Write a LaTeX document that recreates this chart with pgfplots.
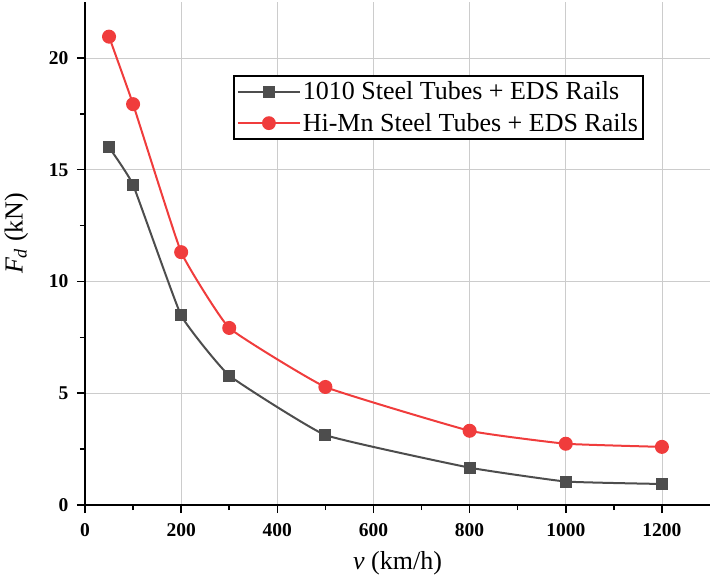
\documentclass[border=0pt]{standalone}
\usepackage{pgfplots}
\pgfplotsset{compat=1.18}
\usepackage{fontspec}
\setmainfont{Liberation Serif}
\definecolor{sgray}{RGB}{77,77,77}
\definecolor{sred}{RGB}{240,60,60}
\begin{document}
\begin{tikzpicture}
\begin{axis}[
  scale only axis,
  width=625pt, height=503pt,
  xmin=0, xmax=1300, ymin=0, ymax=22.5,
  axis x line*=bottom, axis y line*=left,
  axis line style={line width=2pt, -},
  xtick={0,200,...,1200}, ytick={0,5,...,20},
  minor x tick num=1, minor y tick num=1,
  tick align=outside,
  major tick length=8pt, minor tick length=5pt,
  every tick/.style={line width=1.6pt, black},
  grid=major,
  major grid style={gray!40, line width=0.7pt},
  /pgf/number format/assume math mode=true,
  /pgf/number format/1000 sep={},
  ticklabel style={font=\fontsize{19.5}{22}\selectfont\bfseries},
  xticklabel style={yshift=-7pt},
  yticklabel style={xshift=-5pt},
  xlabel={\textit{v} (km/h)},
  ylabel={\textit{F\textsubscript{d}} (kN)},
  label style={font=\fontsize{26}{30}\selectfont},
  xlabel style={yshift=-8pt},
  ylabel style={yshift=14pt, at={(ticklabel cs:0.54)}},
  legend style={at={(0.237,0.855)}, anchor=north west,
    draw=black, line width=1.8pt, font=\fontsize{26}{31}\selectfont,
    inner xsep=3pt, inner ysep=4pt, row sep=8pt,
    /tikz/every even column/.append style={column sep=6pt}},
  legend cell align=left,
  legend image code/.code={\draw[mark repeat=2,mark phase=2,line width=1.8pt] plot coordinates {(0pt,0pt) (31pt,0pt) (62pt,0pt)};},
]
\addplot[sgray, line width=2pt, smooth, tension=0.2, mark=square*, mark size=5pt, mark options={solid}]
  coordinates {(50,16.0) (100,14.32) (200,8.48) (300,5.79) (500,3.13) (800,1.67) (1000,1.05) (1200,0.94)};
\addlegendentry{1010 Steel Tubes + EDS Rails}
\addplot[sred, line width=2pt, smooth, tension=0.2, mark=*, mark size=6pt, mark options={solid}]
  coordinates {(50,20.95) (100,17.93) (200,11.31) (300,7.92) (500,5.28) (800,3.32) (1000,2.74) (1200,2.60)};
\addlegendentry{Hi-Mn Steel Tubes + EDS Rails}
\end{axis}
\useasboundingbox (current axis.south west) ++(-85pt,-82pt) rectangle ([xshift=2pt,yshift=2pt]current axis.north east);
\end{tikzpicture}
\end{document}
